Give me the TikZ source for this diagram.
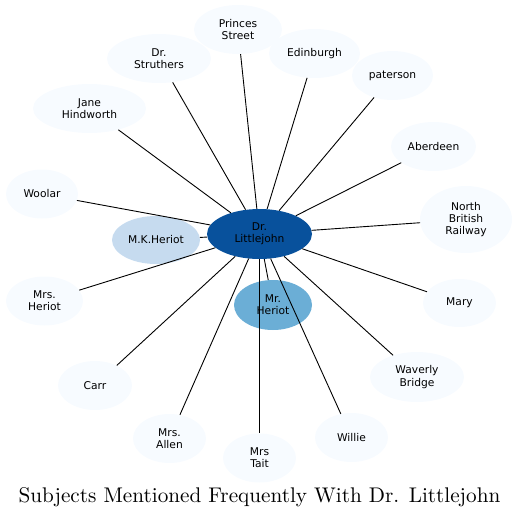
\documentclass[tikz,border=0pt]{standalone}
\usepackage{fontspec}
\newfontfamily\dejavu{DejaVu Sans}
\newfontfamily\titlefont{lmroman10-regular.otf}
\usetikzlibrary{shapes.geometric}
\definecolor{hub}{HTML}{08519C}
\definecolor{midblue}{HTML}{6BAED6}
\definecolor{paleblue}{HTML}{C6DBEF}
\definecolor{faint}{HTML}{F7FBFF}
\tikzset{
  ent/.style={ellipse, draw=none, fill=faint, inner sep=0pt, align=center,
    font=\dejavu\fontsize{10.7}{12.2}\selectfont, text=black},
  link/.style={draw=black, line width=0.9pt}
}
\begin{document}
\begin{tikzpicture}[x=1pt,y=-1pt]
\useasboundingbox (0,0) rectangle (517,519);
\node[ent, fill=hub, minimum width=105, minimum height=50] (lj) at (259.5,234) {Dr.\\Littlejohn};
\node[ent, fill=paleblue, minimum width=88, minimum height=48] (mk) at (156,240) {M.K.Heriot};
\node[ent, fill=midblue, minimum width=78, minimum height=50] (mr) at (273,305) {Mr.\\Heriot};
\node[ent, minimum width=88, minimum height=49] (ps) at (238,29.5) {Princes\\Street};
\node[ent, minimum width=104, minimum height=49] (ds) at (159,58.5) {Dr.\\Struthers};
\node[ent, minimum width=91, minimum height=49] (ed) at (314.5,53.5) {Edinburgh};
\node[ent, minimum width=81, minimum height=49] (pa) at (392.5,75.5) {paterson};
\node[ent, minimum width=113, minimum height=49] (jh) at (89.5,108.5) {Jane\\Hindworth};
\node[ent, minimum width=85, minimum height=49] (ab) at (433.5,146.5) {Aberdeen};
\node[ent, minimum width=72, minimum height=49] (wo) at (42,194) {Woolar};
\node[ent, minimum width=92, minimum height=67] (nb) at (466,219.5) {North\\British\\Railway};
\node[ent, minimum width=77, minimum height=49] (mh) at (44.5,301) {Mrs.\\Heriot};
\node[ent, minimum width=73, minimum height=48] (ma) at (459.5,303) {Mary};
\node[ent, minimum width=74, minimum height=49] (ca) at (95,385.5) {Carr};
\node[ent, minimum width=94, minimum height=50] (wb) at (417,377) {Waverly\\Bridge};
\node[ent, minimum width=73, minimum height=49] (al) at (169.5,438.5) {Mrs.\\Allen};
\node[ent, minimum width=73, minimum height=49] (wi) at (351.5,437.5) {Willie};
\node[ent, minimum width=73, minimum height=49] (ta) at (259.5,458) {Mrs\\Tait};
\foreach \t in {mk,mr,ps,ds,ed,pa,jh,ab,wo,nb,mh,ma,ca,wb,al,wi,ta}
  \draw[link] (lj) -- (\t);
\node[font=\titlefont\fontsize{21.2}{24}\selectfont, inner sep=0pt, anchor=base] (title) at (259.5,502) {Subjects Mentioned Frequently With Dr. Littlejohn};
\end{tikzpicture}
\end{document}
